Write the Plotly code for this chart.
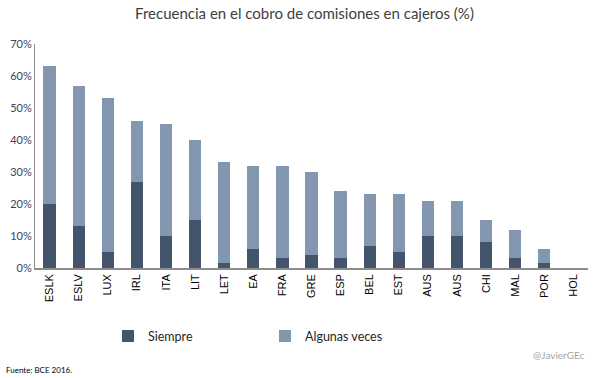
import plotly.graph_objects as go

categories = ["ESLK", "ESLV", "LUX", "IRL", "ITA", "LIT", "LET", "EA", "FRA", "GRE",
              "ESP", "BEL", "EST", "AUS", "AUS", "CHI", "MAL", "POR", "HOL"]
siempre = [20, 13, 5, 27, 10, 15, 1.7, 6, 3, 4, 3, 7, 5, 10, 10, 8, 3, 1.7, 0]
algunas = [43, 44, 48, 19, 35, 25, 31.3, 26, 29, 26, 21, 16, 18, 11, 11, 7, 9, 4.3, 0]
y_ticks = [0, 10, 20, 30, 40, 50, 60, 70]
y_tick_labels = ["0%", "10%", "20%", "30%", "40%", "50%", "60%", "70%"]

x = list(range(len(categories)))
FONT = "Century Gothic, Lato, Open Sans, sans-serif"

fig = go.Figure()
fig.add_trace(go.Bar(x=x, y=siempre, name="Siempre", marker_color="#44546A",
                     marker_line_width=0, width=0.42))
fig.add_trace(go.Bar(x=x, y=algunas, name="Algunas veces", marker_color="#8497B0",
                     marker_line_width=0, width=0.42))

fig.update_layout(
    barmode="stack",
    width=609, height=378,
    margin=dict(l=35, r=21, t=44, b=110, autoexpand=False),
    paper_bgcolor="white", plot_bgcolor="white",
    font=dict(family=FONT, color="#404040"),
    title=dict(text="Frecuencia en el cobro de comisiones en cajeros (%)",
               x=0.5, xanchor="center", y=1 - 14 / 378, yanchor="middle",
               font=dict(size=15, color="#404040", family=FONT)),
    showlegend=True,
    legend=dict(orientation="h", x=0.132, xanchor="left", y=-0.305, yanchor="middle",
                entrywidth=112, entrywidthmode="pixels",
                font=dict(size=12.5, color="#262626", family=FONT),
                itemwidth=30, traceorder="normal"),
    bargap=0.58,
)
fig.update_xaxes(range=[-0.5, len(categories) - 0.5], tickmode="array", tickvals=x,
                 ticktext=categories, tickangle=-90, showgrid=False, zeroline=False,
                 showline=True, linecolor="#8c8c8c", linewidth=1.5, ticks="",
                 automargin=False,
                 tickfont=dict(family="Liberation Sans, Arial, sans-serif", size=11, color="#000000"))
fig.update_yaxes(range=[0, 70], tickmode="array", tickvals=y_ticks, ticktext=y_tick_labels,
                 showgrid=False, zeroline=False, showline=True, linecolor="#8c8c8c",
                 linewidth=1, ticks="", automargin=False,
                 tickfont=dict(size=11, color="#404060", family=FONT))

fig.add_annotation(text="Fuente: BCE 2016.", xref="paper", yref="paper",
                   x=-31 / 553, y=-(370 - 268) / 224, xanchor="left", yanchor="middle",
                   showarrow=False, font=dict(size=8, color="#000000", family=FONT))
fig.add_annotation(text="@JavierGEc", xref="paper", yref="paper",
                   x=(587 - 35) / 553, y=-(355 - 268) / 224, xanchor="right", yanchor="middle",
                   showarrow=False, font=dict(size=10, color="#a6a6a6", family=FONT))

fig.write_html("out.html", config={"displayModeBar": False},
               post_script="document.body.style.margin='0';document.body.style.overflow='hidden';")
